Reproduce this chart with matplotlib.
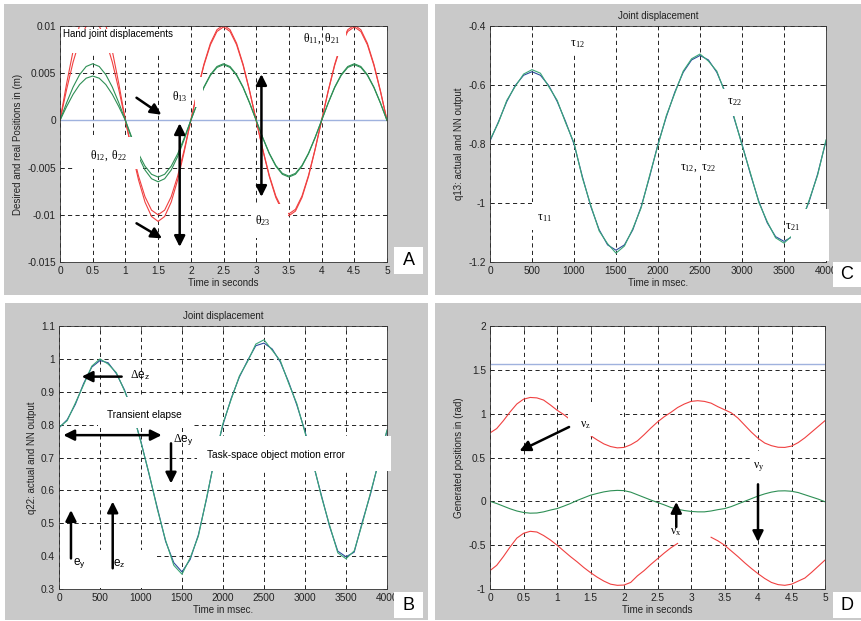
import numpy as np
import matplotlib
import matplotlib.pyplot as plt
from matplotlib.patches import Rectangle

plt.rcParams.update({'font.family': ['Liberation Sans', 'DejaVu Sans'],
                     'font.size': 7,
                     'mathtext.fontset': 'custom',
                     'mathtext.rm': 'Liberation Serif',
                     'mathtext.it': 'Liberation Serif',
                     'mathtext.bf': 'Liberation Serif:bold',
                     'mathtext.sf': 'Liberation Sans',
                     'axes.linewidth': 0.6,
                     'lines.linewidth': 0.8})

W, H = 861.0, 621.0
GRAY = '#c9c9c9'
RED = '#f04040'
GREEN = '#2e8f55'
TEAL = '#3aa778'
BLUE = '#2c4c9c'
LIGHTBLUE = '#9fb2de'

######################################## data, panel A (hand joint displacements, m)
t_a = np.round(np.arange(51) * 0.1, 1)
a_red1 = [0, .00386, .00735, .01011, .01189, .0125, .01189, .01011, .00735, .00386,
          0, -.00331, -.00629, -.00866, -.01018, -.0107, -.01018, -.00866, -.00629, -.00331,
          0, .00312, .00594, .00817, .00961, .0101, .00961, .00817, .00594, .00312,
          0, -.00312, -.00594, -.00817, -.00961, -.0101, -.00961, -.00817, -.00594, -.00312,
          0, .00312, .00594, .00817, .00961, .0101, .00961, .00817, .00594, .00312,
          0]
a_red2 = [0, .00324, .00617, .00849, .00999, .0105, .00999, .00849, .00617, .00324,
          0, -.00309, -.00588, -.00809, -.00951, -.0100, -.00951, -.00809, -.00588, -.00309,
          0, .00306, .00582, .00801, .00942, .0099, .00942, .00801, .00582, .00306,
          0, -.00306, -.00582, -.00801, -.00942, -.0099, -.00942, -.00801, -.00582, -.00306,
          0, .00306, .00582, .00801, .00942, .0099, .00942, .00801, .00582, .00306,
          0]
a_green1 = [0, .00185, .00353, .00485, .00571, .0060, .00571, .00485, .00353, .00185,
            0, -.00185, -.00353, -.00485, -.00571, -.0060, -.00571, -.00485, -.00353, -.00185,
            0, .00185, .00353, .00485, .00571, .0060, .00571, .00485, .00353, .00185,
            0, -.00185, -.00353, -.00485, -.00571, -.0060, -.00571, -.00485, -.00353, -.00185,
            0, .00185, .00353, .00485, .00571, .0060, .00571, .00485, .00353, .00185,
            0]
a_green2 = [0, .00145, .00276, .0038, .00447, .0047, .00447, .0038, .00276, .00145,
            0, -.00201, -.00382, -.00526, -.00618, -.0065, -.00618, -.00526, -.00382, -.00201,
            0, .00182, .00347, .00477, .00561, .0059, .00561, .00477, .00347, .00182,
            0, -.00182, -.00347, -.00477, -.00561, -.0059, -.00561, -.00477, -.00347, -.00182,
            0, .00182, .00347, .00477, .00561, .0059, .00561, .00477, .00347, .00182,
            0]
a_zero = 0.0
a_xticks = [0, 0.5, 1, 1.5, 2, 2.5, 3, 3.5, 4, 4.5, 5]
a_xlabels = ['0', '0.5', '1', '1.5', '2', '2.5', '3', '3.5', '4', '4.5', '5']
a_yticks = [-0.015, -0.01, -0.005, 0, 0.005, 0.01]
a_ylabels = ['-0.015', '-0.01', '-0.005', '0', '0.005', '0.01']

######################################## data, panels B and C (msec)
t_bc = np.arange(41) * 100
c_blue = [-0.790, -0.725, -0.656, -0.602, -0.567, -0.555, -0.567, -0.602, -0.656, -0.724,
          -0.800, -0.911, -1.012, -1.091, -1.142, -1.160, -1.142, -1.091, -1.012, -0.911,
          -0.800, -0.707, -0.624, -0.557, -0.515, -0.500, -0.515, -0.557, -0.624, -0.707,
          -0.800, -0.902, -0.994, -1.067, -1.114, -1.130, -1.114, -1.067, -0.994, -0.902,
          -0.790]
c_green = [-0.786, -0.728, -0.652, -0.605, -0.563, -0.548, -0.560, -0.606, -0.652, -0.728,
           -0.796, -0.915, -1.008, -1.095, -1.138, -1.170, -1.146, -1.087, -1.016, -0.907,
           -0.804, -0.703, -0.628, -0.553, -0.511, -0.495, -0.519, -0.553, -0.628, -0.703,
           -0.804, -0.898, -0.998, -1.063, -1.118, -1.136, -1.110, -1.071, -0.990, -0.906,
           -0.786]
c_xticks = [0, 500, 1000, 1500, 2000, 2500, 3000, 3500, 4000]
c_xlabels = ['0', '500', '1000', '1500', '2000', '2500', '3000', '3500', '4000']
c_yticks = [-1.2, -1.0, -0.8, -0.6, -0.4]
c_ylabels = ['-1.2', '-1', '-0.8', '-0.6', '-0.4']

b_blue = [0.790, 0.815, 0.862, 0.925, 0.975, 0.995, 0.988, 0.955, 0.905, 0.835,
          0.748, 0.647, 0.546, 0.445, 0.380, 0.352, 0.390, 0.465, 0.575, 0.700,
          0.800, 0.880, 0.945, 0.995, 1.040, 1.048, 1.030, 0.990, 0.930, 0.860,
          0.780, 0.680, 0.585, 0.490, 0.415, 0.398, 0.412, 0.505, 0.590, 0.690,
          0.780]
b_green = [0.792, 0.812, 0.866, 0.921, 0.978, 1.000, 0.984, 0.958, 0.902, 0.838,
           0.745, 0.650, 0.542, 0.448, 0.372, 0.345, 0.395, 0.461, 0.578, 0.697,
           0.804, 0.877, 0.948, 0.992, 1.045, 1.058, 1.026, 0.994, 0.926, 0.864,
           0.776, 0.684, 0.581, 0.494, 0.410, 0.392, 0.416, 0.500, 0.594, 0.686,
           0.784]
b_yticks = [0.3, 0.4, 0.5, 0.6, 0.7, 0.8, 0.9, 1.0, 1.1]
b_ylabels = ['0.3', '0.4', '0.5', '0.6', '0.7', '0.8', '0.9', '1', '1.1']

######################################## data, panel D (generated positions, rad)
t_d = np.round(np.arange(51) * 0.1, 1)
d_red_up = [0.78, 0.83, 0.92, 1.02, 1.11, 1.165, 1.185, 1.18, 1.155, 1.10,
            1.04, 0.99, 0.93, 0.86, 0.80, 0.75, 0.70, 0.655, 0.625, 0.61,
            0.615, 0.645, 0.69, 0.76, 0.835, 0.905, 0.965, 1.015, 1.07, 1.11,
            1.14, 1.148, 1.14, 1.12, 1.08, 1.045, 1.01, 0.95, 0.87, 0.79,
            0.72, 0.665, 0.635, 0.617, 0.615, 0.63, 0.67, 0.725, 0.79, 0.855,
            0.92]
d_green = [0.0, -0.025, -0.055, -0.085, -0.11, -0.127, -0.135, -0.133, -0.12, -0.10,
           -0.083, -0.055, -0.025, 0.01, 0.04, 0.07, 0.09, 0.108, 0.12, 0.125,
           0.122, 0.105, 0.075, 0.045, 0.015, -0.013, -0.04, -0.07, -0.09, -0.105,
           -0.115, -0.12, -0.12, -0.11, -0.095, -0.083, -0.06, -0.03, 0.0, 0.03,
           0.06, 0.085, 0.105, 0.118, 0.12, 0.115, 0.1, 0.075, 0.05, 0.025,
           -0.005]
d_red_low = [-0.79, -0.73, -0.63, -0.52, -0.42, -0.365, -0.342, -0.35, -0.39, -0.44,
             -0.50, -0.565, -0.63, -0.69, -0.755, -0.813, -0.865, -0.91, -0.945, -0.958,
             -0.955, -0.925, -0.85, -0.79, -0.72, -0.655, -0.59, -0.53, -0.48, np.nan,
             np.nan, np.nan, np.nan, -0.41, -0.45, -0.50, -0.565, -0.63, -0.70, -0.765,
             -0.825, -0.88, -0.925, -0.95, -0.958, -0.945, -0.91, -0.875, -0.81, -0.74,
             -0.67]
d_blue = 1.5708
d_yticks = [-1, -0.5, 0, 0.5, 1, 1.5, 2]
d_ylabels = ['-1', '-0.5', '0', '0.5', '1', '1.5', '2']

fig = plt.figure(figsize=(W / 100, H / 100), dpi=100)


def frame(l, t, r, b, color=GRAY, z=-5):
    fig.add_artist(Rectangle((l / W, 1 - b / H), (r - l) / W, (b - t) / H,
                             transform=fig.transFigure, facecolor=color,
                             edgecolor='none', zorder=z))


def letter(l, t, r, b, s):
    frame(l, t, r, b, color='white', z=10)
    fig.text((l + r) / 2 / W, 1 - (t + b) / 2 / H, s, ha='center', va='center',
             fontsize=13, zorder=11)


def panel(l, t, r, b):
    return fig.add_axes([l / W, 1 - b / H, (r - l) / W, (b - t) / H])


def dress(ax, xlim, ylim, xt, xtl, yt, ytl, xlabel, ylabel, title=None):
    ax.set_xlim(xlim)
    ax.set_ylim(ylim)
    ax.set_xticks(xt)
    ax.set_xticklabels(xtl)
    ax.set_yticks(yt)
    ax.set_yticklabels(ytl)
    ax.tick_params(direction='in', length=3, width=0.5, top=True, right=True,
                   labelsize=7.3, pad=3, colors='#222222')
    ax.grid(True, color='k', linestyle=(0, (5, 4)), linewidth=0.6)
    ax.set_xlabel(xlabel, labelpad=1, color='#222222')
    ax.set_ylabel(ylabel, labelpad=3, color='#222222')
    if title:
        ax.set_title(title, fontsize=7, pad=5, color='#222222')
    for s in ax.spines.values():
        s.set_color('#333333')


def blank(ax, x0, x1, y0, y1, clip=True):
    ax.add_patch(Rectangle((x0, y0), x1 - x0, y1 - y0, facecolor='white',
                           edgecolor='none', zorder=3, clip_on=clip))


def arrow(ax, start, tip, both=False):
    ax.annotate('', xy=tip, xytext=start, zorder=5,
                arrowprops=dict(arrowstyle='<|-|>' if both else '-|>', color='k',
                                lw=1.8, mutation_scale=16, shrinkA=0, shrinkB=0))


def label(ax, x, y, s, size=8.5):
    ax.text(x, y, s, fontsize=size, va='center', ha='left', zorder=4)


# grey panel frames
frame(4, 4, 428, 295)
frame(435, 4, 861, 295)
frame(5, 303, 428, 620)
frame(435, 303, 861, 620)

######################################## A
ax = panel(60, 26, 387, 262)
ax.plot(t_a, [a_zero] * len(t_a), color=LIGHTBLUE, lw=1.0)
ax.plot(t_a, a_red1, color=RED)
ax.plot(t_a, a_red2, color=RED)
ax.plot(t_a, a_green1, color=GREEN)
ax.plot(t_a, a_green2, color=GREEN)
dress(ax, (0, 5), (-0.015, 0.01), a_xticks, a_xlabels, a_yticks, a_ylabels,
      'Time in seconds', 'Desired and real Positions in (m)')
blank(ax, 0.02, 1.55, 0.0071, 0.0097)
blank(ax, 2.06, 2.19, 0.0014, 0.0046)
blank(ax, 0.2, 1.22, -0.0052, -0.0018)
blank(ax, 2.92, 3.48, -0.0125, -0.0089)
blank(ax, 4.22, 4.38, 0.0068, 0.0098)
label(ax, 0.05, 0.0091, 'Hand joint displacements', size=7.1)
label(ax, 1.71, 0.0025, r'$\theta_{13}$')
label(ax, 0.46, -0.0037, r'$\theta_{12},\ \theta_{22}$')
label(ax, 3.71, 0.0086, r'$\theta_{11},\ \theta_{21}$')
label(ax, 2.98, -0.0106, r'$\theta_{23}$')
arrow(ax, (1.17, 0.0024), (1.55, 0.0006))
arrow(ax, (1.17, -0.0109), (1.56, -0.0125))
arrow(ax, (1.83, -0.0003), (1.83, -0.0134), both=True)
arrow(ax, (3.08, 0.0049), (3.08, -0.0081), both=True)
letter(394, 247, 423, 274, 'A')

######################################## C
ax = panel(490, 26, 826, 262)
ax.plot(t_bc, c_blue, color=BLUE)
ax.plot(t_bc, c_green, color=TEAL)
dress(ax, (0, 4000), (-1.2, -0.4), c_xticks, c_xlabels, c_yticks, c_ylabels,
      'Time in msec.', 'q13: actual and NN output', title='Joint displacement')
blank(ax, 900, 1150, -0.495, -0.403)
blank(ax, 2770, 3010, -0.705, -0.612)
blank(ax, 2240, 2680, -0.905, -0.82)
blank(ax, 505, 995, -1.09, -0.998)
blank(ax, 3585, 4040, -1.197, -1.02, clip=False)
label(ax, 952, -0.461, r'$\tau_{\,12}$')
label(ax, 556, -1.052, r'$\tau_{\,11}$')
label(ax, 2817, -0.657, r'$\tau_{\,22}$')
label(ax, 2262, -0.882, r'$\tau_{12},\ \tau_{\,22}$')
label(ax, 3512, -1.08, r'$\tau_{\,21}$')
letter(833, 262, 861, 287, 'C')

######################################## B
ax = panel(59, 326, 387, 589)
ax.plot(t_bc, b_blue, color=BLUE)
ax.plot(t_bc, b_green, color=TEAL)
dress(ax, (0, 4000), (0.3, 1.1), c_xticks, c_xlabels, b_yticks, b_ylabels,
      'Time in msec.', 'q22: actual and NN output', title='Joint displacement')
blank(ax, 470, 1650, 0.79, 0.885)
blank(ax, 1680, 4050, 0.66, 0.765, clip=False)
blank(ax, 15, 1180, 0.303, 0.42)
label(ax, 866, 0.951, r'$\Delta\mathsf{e}_{\mathsf{z}}$')
label(ax, 582, 0.829, 'Transient elapse', size=7.3)
label(ax, 1394, 0.753, r'$\Delta\mathsf{e}_{\mathsf{y}}$')
label(ax, 1800, 0.708, 'Task-space object motion error', size=7.3)
label(ax, 167, 0.378, r'$\mathsf{e}_{\mathsf{y}}$')
label(ax, 663, 0.378, r'$\mathsf{e}_{\mathsf{z}}$')
arrow(ax, (764, 0.946), (277, 0.946))
arrow(ax, (53, 0.768), (1252, 0.768), both=True)
arrow(ax, (1366, 0.743), (1366, 0.621))
arrow(ax, (146, 0.393), (146, 0.54))
arrow(ax, (655, 0.363), (655, 0.566))
letter(394, 592, 423, 618, 'B')

######################################## D
ax = panel(490, 326, 825, 589)
ax.plot(t_d, [d_blue] * len(t_d), color=LIGHTBLUE, lw=1.0)
ax.plot(t_d, d_red_up, color=RED)
ax.plot(t_d, d_green, color=GREEN)
ax.plot(t_d, d_red_low, color=RED)
dress(ax, (0, 5), (-1, 2), a_xticks, a_xlabels, d_yticks, d_ylabels,
      'Time in seconds', 'Generated positions in (rad)')
blank(ax, 1.17, 1.94, 0.745, 1.1)
blank(ax, 3.88, 4.49, 0.2, 0.57)
label(ax, 1.34, 0.875, r'$\nu_z$')
label(ax, 3.93, 0.395, r'$\nu_y$')
label(ax, 2.68, -0.35, r'$\nu_x$')
arrow(ax, (1.18, 0.848), (0.44, 0.574))
arrow(ax, (2.78, -0.293), (2.78, -0.007))
arrow(ax, (4.0, 0.194), (4.0, -0.464))
letter(833, 592, 861, 618, 'D')

plt.savefig('out.png', dpi=100)
